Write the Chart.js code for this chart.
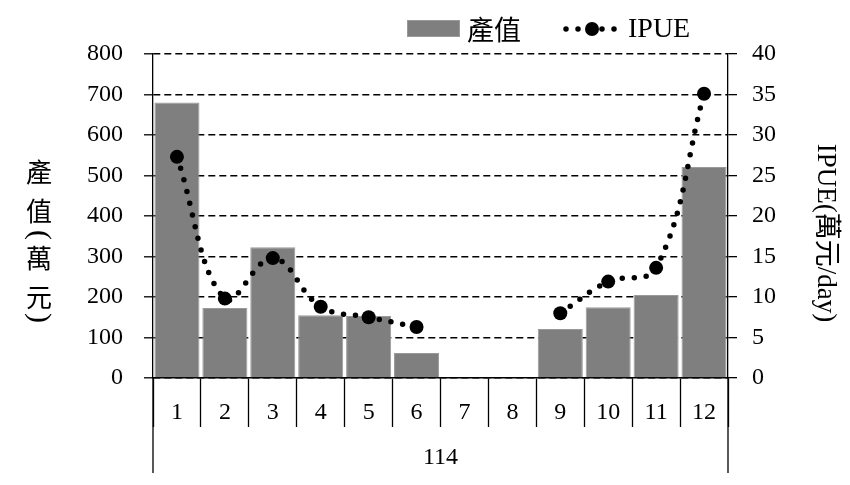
<!DOCTYPE html>
<html>
<head>
<meta charset="utf-8">
<script src="https://cdn.jsdelivr.net/npm/chart.js@4.4.0/dist/chart.umd.min.js"></script>
<style>
    html, body { margin: 0; padding: 0; background: #ffffff; }
    #wrap { width: 850px; height: 485px; }
</style>
</head>
<body>
<div id="wrap"><canvas id="chart" width="850" height="485"></canvas></div>
<script>
// Chart data
const months = ['1', '2', '3', '4', '5', '6', '7', '8', '9', '10', '11', '12'];
const yearLabel = '114';
const outputValues = [680, 173, 323, 155, 153, 62, null, null, 121, 175, 205, 521];   // 產值 (萬元)
const ipueValues = [27.3, 9.8, 14.8, 8.8, 7.5, 6.3, null, null, 8.0, 11.9, 13.6, 35.1]; // IPUE (萬元/day)
const outputAxisMax = 800;
const outputAxisStep = 100;
const ipueAxisMax = 40;
const ipueAxisStep = 5;

const SERIF = "'Liberation Serif', 'Noto Sans CJK TC', serif";
const CJK = "'Noto Sans CJK TC', 'Noto Sans CJK SC', sans-serif";
const BAR_COLOR = '#7f7f7f';

// Extra drawing: axis titles, the year bracket lines and the legend
const decorPlugin = {
    id: 'decor',
    afterDraw(chart) {
        const ctx = chart.ctx;
        const area = chart.chartArea;
        const xs = chart.scales.x;

        ctx.save();

        // outer lines of the year group below the month labels
        ctx.strokeStyle = '#000';
        ctx.lineWidth = 1.3;
        ctx.beginPath();
        ctx.moveTo(xs.left, area.bottom);
        ctx.lineTo(xs.left, 473);
        ctx.moveTo(xs.right, area.bottom);
        ctx.lineTo(xs.right, 473);
        ctx.stroke();

        // left title, written vertically
        ctx.fillStyle = '#000';
        ctx.textAlign = 'center';
        ctx.textBaseline = 'middle';
        const leftChars = [
            { t: '產', y: 172 },
            { t: '值', y: 211 },
            { t: '(', y: 235, rot: true },
            { t: '萬', y: 258 },
            { t: '元', y: 297 },
            { t: ')', y: 318, rot: true }
        ];
        leftChars.forEach(c => {
            if (c.rot) {
                ctx.save();
                ctx.translate(39, c.y);
                ctx.rotate(Math.PI / 2);
                ctx.font = '30px ' + SERIF;
                ctx.fillText(c.t, 0, 0);
                ctx.restore();
            } else {
                ctx.font = '26px ' + CJK;
                ctx.fillText(c.t, 39, c.y);
            }
        });

        // right title, rotated clockwise
        ctx.save();
        ctx.translate(825, 233);
        ctx.rotate(Math.PI / 2);
        ctx.font = '27px ' + SERIF;
        ctx.fillText('IPUE(萬元/day)', 0, 0);
        ctx.restore();

        // legend
        const barSet = chart.data.datasets[1];
        const lineSet = chart.data.datasets[0];
        const ly = 29;

        ctx.fillStyle = barSet.backgroundColor;
        ctx.fillRect(407, 20, 53, 17);
        ctx.strokeStyle = barSet.borderColor;
        ctx.lineWidth = 1;
        ctx.strokeRect(407.5, 20.5, 52, 16);

        ctx.fillStyle = '#000';
        ctx.textAlign = 'left';
        ctx.font = '27px ' + CJK;
        ctx.fillText(barSet.label, 467, ly + 1);

        ctx.strokeStyle = lineSet.borderColor;
        ctx.lineWidth = lineSet.borderWidth;
        ctx.lineCap = 'round';
        ctx.setLineDash(lineSet.borderDash);
        ctx.beginPath();
        ctx.moveTo(566, ly);
        ctx.lineTo(619, ly);
        ctx.stroke();
        ctx.setLineDash([]);
        ctx.fillStyle = lineSet.pointBackgroundColor;
        ctx.beginPath();
        ctx.arc(592, ly, lineSet.pointRadius, 0, Math.PI * 2);
        ctx.fill();

        ctx.fillStyle = '#000';
        ctx.font = '28px ' + SERIF;
        ctx.fillText(lineSet.label, 628, ly + 1);

        ctx.restore();
    }
};

const ctx = document.getElementById('chart').getContext('2d');

new Chart(ctx, {
    type: 'bar',
    data: {
        labels: months,
        datasets: [
            {
                type: 'line',
                label: 'IPUE',
                data: ipueValues,
                yAxisID: 'y1',
                order: 0,
                borderColor: '#000',
                borderWidth: 5.5,
                borderDash: [0, 12],
                borderCapStyle: 'round',
                tension: 0.4,
                spanGaps: false,
                fill: false,
                pointRadius: 7,
                pointHoverRadius: 7,
                pointBackgroundColor: '#000',
                pointBorderColor: '#000',
                pointBorderWidth: 0
            },
            {
                type: 'bar',
                label: '產值',
                data: outputValues,
                yAxisID: 'y',
                order: 1,
                backgroundColor: BAR_COLOR,
                borderColor: '#9a9a9a',
                borderWidth: 1,
                barPercentage: 0.94,
                categoryPercentage: 1.0
            }
        ]
    },
    options: {
        responsive: false,
        animation: false,
        layout: {
            padding: { top: 54, left: 0, right: 0, bottom: 0 }
        },
        plugins: {
            legend: { display: false },
            tooltip: { enabled: false }
        },
        scales: {
            x: {
                type: 'category',
                offset: true,
                grid: {
                    offset: true,
                    drawOnChartArea: false,
                    drawTicks: true,
                    tickLength: 49,
                    tickColor: '#000',
                    tickWidth: 1.3
                },
                border: { color: '#000', width: 1.5 },
                ticks: {
                    color: '#000',
                    padding: -29,
                    maxRotation: 0,
                    font: { family: SERIF, size: 24 }
                },
                title: {
                    display: true,
                    text: yearLabel,
                    color: '#000',
                    font: { family: SERIF, size: 24 },
                    padding: { top: 0, bottom: 13 }
                },
                afterFit(scale) { scale.height = 107; }
            },
            y: {
                position: 'left',
                min: 0,
                max: outputAxisMax,
                grid: {
                    color: '#000',
                    lineWidth: 1.6,
                    tickLength: 9,
                    tickColor: '#000',
                    tickWidth: 1.3
                },
                border: { color: '#000', width: 1.3, dash: [7, 4] },
                ticks: {
                    stepSize: outputAxisStep,
                    color: '#000',
                    padding: 21,
                    font: { family: SERIF, size: 24 }
                },
                afterFit(scale) { scale.width = 153; }
            },
            y1: {
                position: 'right',
                min: 0,
                max: ipueAxisMax,
                grid: {
                    drawOnChartArea: false,
                    tickLength: 9,
                    tickColor: '#000',
                    lineWidth: 1.3
                },
                border: { color: '#000', width: 1.3 },
                ticks: {
                    stepSize: ipueAxisStep,
                    color: '#000',
                    padding: 15,
                    font: { family: SERIF, size: 24 }
                },
                afterFit(scale) { scale.width = 122; }
            }
        }
    },
    plugins: [decorPlugin]
});
</script>
</body>
</html>
